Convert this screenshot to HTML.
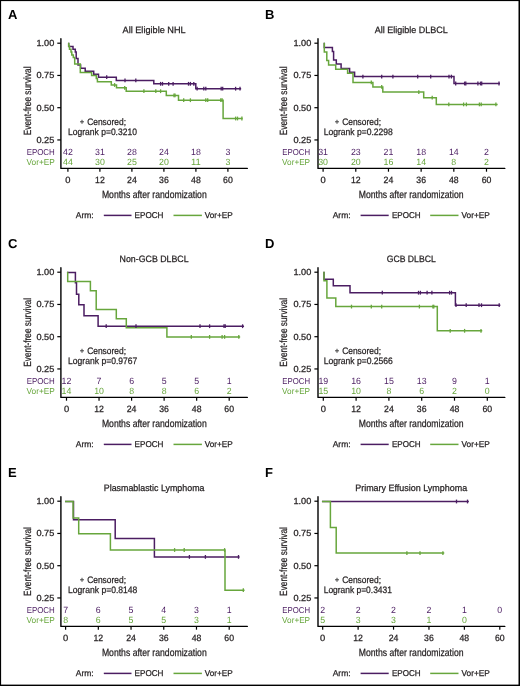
<!DOCTYPE html>
<html><head><meta charset="utf-8"><title>Event-free survival</title>
<style>html,body{margin:0;padding:0;background:#fff;width:520px;height:686px;overflow:hidden}</style>
</head><body>
<svg width="520" height="686" viewBox="0 0 520 686" style="display:block;will-change:transform">
<rect x="0" y="0" width="520" height="686" fill="#fff"/>
<g font-family='"Liberation Sans", sans-serif' text-rendering="geometricPrecision">
<text x="8.00" y="18.90" font-size="13.0" fill="#000" font-weight="bold">A</text>
<text x="122.55" y="33.30" font-size="9.2" fill="#231f20" textLength="63.10" lengthAdjust="spacingAndGlyphs" stroke="#231f20" stroke-width="0.25">All Eligible NHL</text>
<path d="M60.90,38.80 V168.40 H247.30" fill="none" stroke="#000" stroke-width="1.4" stroke-linecap="round" stroke-linejoin="round"/>
<line x1="57.30" y1="43.20" x2="60.90" y2="43.20" stroke="#000" stroke-width="1.2"/>
<text x="36.40" y="46.05" font-size="8.8" fill="#231f20" textLength="17.90" lengthAdjust="spacingAndGlyphs" stroke="#231f20" stroke-width="0.25">1.00</text>
<line x1="57.30" y1="75.45" x2="60.90" y2="75.45" stroke="#000" stroke-width="1.2"/>
<text x="36.40" y="78.30" font-size="8.8" fill="#231f20" textLength="17.90" lengthAdjust="spacingAndGlyphs" stroke="#231f20" stroke-width="0.25">0.75</text>
<line x1="57.30" y1="107.70" x2="60.90" y2="107.70" stroke="#000" stroke-width="1.2"/>
<text x="36.40" y="110.55" font-size="8.8" fill="#231f20" textLength="17.90" lengthAdjust="spacingAndGlyphs" stroke="#231f20" stroke-width="0.25">0.50</text>
<line x1="57.30" y1="139.95" x2="60.90" y2="139.95" stroke="#000" stroke-width="1.2"/>
<text x="36.40" y="142.80" font-size="8.8" fill="#231f20" textLength="17.90" lengthAdjust="spacingAndGlyphs" stroke="#231f20" stroke-width="0.25">0.25</text>
<line x1="67.90" y1="168.40" x2="67.90" y2="171.70" stroke="#000" stroke-width="1.2"/>
<text x="65.30" y="183.30" font-size="9.1" fill="#231f20" textLength="5.20" lengthAdjust="spacingAndGlyphs" stroke="#231f20" stroke-width="0.25">0</text>
<line x1="99.90" y1="168.40" x2="99.90" y2="171.70" stroke="#000" stroke-width="1.2"/>
<text x="95.05" y="183.30" font-size="9.1" fill="#231f20" textLength="9.70" lengthAdjust="spacingAndGlyphs" stroke="#231f20" stroke-width="0.25">12</text>
<line x1="131.90" y1="168.40" x2="131.90" y2="171.70" stroke="#000" stroke-width="1.2"/>
<text x="127.05" y="183.30" font-size="9.1" fill="#231f20" textLength="9.70" lengthAdjust="spacingAndGlyphs" stroke="#231f20" stroke-width="0.25">24</text>
<line x1="163.90" y1="168.40" x2="163.90" y2="171.70" stroke="#000" stroke-width="1.2"/>
<text x="159.05" y="183.30" font-size="9.1" fill="#231f20" textLength="9.70" lengthAdjust="spacingAndGlyphs" stroke="#231f20" stroke-width="0.25">36</text>
<line x1="195.90" y1="168.40" x2="195.90" y2="171.70" stroke="#000" stroke-width="1.2"/>
<text x="191.05" y="183.30" font-size="9.1" fill="#231f20" textLength="9.70" lengthAdjust="spacingAndGlyphs" stroke="#231f20" stroke-width="0.25">48</text>
<line x1="227.90" y1="168.40" x2="227.90" y2="171.70" stroke="#000" stroke-width="1.2"/>
<text x="223.05" y="183.30" font-size="9.1" fill="#231f20" textLength="9.70" lengthAdjust="spacingAndGlyphs" stroke="#231f20" stroke-width="0.25">60</text>
<text x="101.90" y="197.60" font-size="10.4" fill="#231f20" textLength="104.80" lengthAdjust="spacingAndGlyphs" stroke="#231f20" stroke-width="0.25">Months after randomization</text>
<text x="0" y="0" font-size="10.4" fill="#231f20" stroke="#231f20" stroke-width="0.25" textLength="68.8" lengthAdjust="spacingAndGlyphs" transform="translate(30.50,135.30) rotate(-90)">Event-free survival</text>
<line x1="80.00" y1="121.80" x2="84.00" y2="121.80" stroke="#444" stroke-width="1.0"/>
<line x1="82.00" y1="119.80" x2="82.00" y2="123.80" stroke="#444" stroke-width="1.0"/>
<text x="87.20" y="125.40" font-size="9.4" fill="#231f20" textLength="38.80" lengthAdjust="spacingAndGlyphs" stroke="#231f20" stroke-width="0.25">Censored;</text>
<text x="68.10" y="135.00" font-size="9.4" fill="#231f20" textLength="68.80" lengthAdjust="spacingAndGlyphs" stroke="#231f20" stroke-width="0.25">Logrank p=0.3210</text>
<text x="26.70" y="154.65" font-size="8.6" fill="#4b1d62" textLength="28.10" lengthAdjust="spacingAndGlyphs">EPOCH</text>
<text x="26.50" y="164.60" font-size="8.6" fill="#67a63c" textLength="28.30" lengthAdjust="spacingAndGlyphs">Vor+EP</text>
<text x="63.00" y="154.65" font-size="9.0" fill="#4b1d62" textLength="9.80" lengthAdjust="spacingAndGlyphs">42</text>
<text x="63.00" y="164.60" font-size="9.0" fill="#67a63c" textLength="9.80" lengthAdjust="spacingAndGlyphs">44</text>
<text x="95.00" y="154.65" font-size="9.0" fill="#4b1d62" textLength="9.80" lengthAdjust="spacingAndGlyphs">31</text>
<text x="95.00" y="164.60" font-size="9.0" fill="#67a63c" textLength="9.80" lengthAdjust="spacingAndGlyphs">30</text>
<text x="127.00" y="154.65" font-size="9.0" fill="#4b1d62" textLength="9.80" lengthAdjust="spacingAndGlyphs">28</text>
<text x="127.00" y="164.60" font-size="9.0" fill="#67a63c" textLength="9.80" lengthAdjust="spacingAndGlyphs">25</text>
<text x="159.00" y="154.65" font-size="9.0" fill="#4b1d62" textLength="9.80" lengthAdjust="spacingAndGlyphs">24</text>
<text x="159.00" y="164.60" font-size="9.0" fill="#67a63c" textLength="9.80" lengthAdjust="spacingAndGlyphs">20</text>
<text x="191.00" y="154.65" font-size="9.0" fill="#4b1d62" textLength="9.80" lengthAdjust="spacingAndGlyphs">18</text>
<text x="191.00" y="164.60" font-size="9.0" fill="#67a63c" textLength="9.80" lengthAdjust="spacingAndGlyphs">11</text>
<text x="225.45" y="154.65" font-size="9.0" fill="#4b1d62" textLength="4.90" lengthAdjust="spacingAndGlyphs">3</text>
<text x="225.45" y="164.60" font-size="9.0" fill="#67a63c" textLength="4.90" lengthAdjust="spacingAndGlyphs">3</text>
<text x="75.80" y="218.40" font-size="8.5" fill="#231f20" textLength="17.90" lengthAdjust="spacingAndGlyphs" stroke="#231f20" stroke-width="0.25">Arm:</text>
<line x1="103.80" y1="215.40" x2="131.50" y2="215.40" stroke="#4b1d62" stroke-width="1.5"/>
<text x="134.60" y="218.40" font-size="8.5" fill="#231f20" textLength="28.90" lengthAdjust="spacingAndGlyphs" stroke="#231f20" stroke-width="0.25">EPOCH</text>
<line x1="173.50" y1="215.40" x2="201.90" y2="215.40" stroke="#67a63c" stroke-width="1.5"/>
<text x="204.80" y="218.40" font-size="8.5" fill="#231f20" textLength="27.90" lengthAdjust="spacingAndGlyphs" stroke="#231f20" stroke-width="0.25">Vor+EP</text>
<path d="M68.7,43.4 V46.4 H73 V49.3 H75.3 V52 H76.2 V58.5 H78 V65 H80.6 V68.2 H85.2 V71.2 H93.7 V74.3 H98.5 V77.2 H116.3 V80.4 H153.8 V83.8 H195.8 V88.7 H240.4" fill="none" stroke="#4b1d62" stroke-width="1.5" stroke-linejoin="miter" stroke-linecap="square"/>
<path d="M68.7,43.4 V46.3 H69.5 V49.3 H71 V52 H71.8 V55 H73.3 V57.5 H74.7 V64 H80.3 V72.4 H91.6 V75.5 H96.3 V78.5 H97.4 V81.8 H111.3 V85 H116.5 V87.8 H126.2 V91.2 H166.3 V95.4 H178.5 V100.2 H223.1 V118.5 H241.9" fill="none" stroke="#67a63c" stroke-width="1.5" stroke-linejoin="miter" stroke-linecap="square"/>
<line x1="106.70" y1="75.30" x2="106.70" y2="79.10" stroke="#4b1d62" stroke-width="1.3"/>
<line x1="125.00" y1="78.50" x2="125.00" y2="82.30" stroke="#4b1d62" stroke-width="1.3"/>
<line x1="135.80" y1="78.50" x2="135.80" y2="82.30" stroke="#4b1d62" stroke-width="1.3"/>
<line x1="160.60" y1="81.90" x2="160.60" y2="85.70" stroke="#4b1d62" stroke-width="1.3"/>
<line x1="162.50" y1="81.90" x2="162.50" y2="85.70" stroke="#4b1d62" stroke-width="1.3"/>
<line x1="168.70" y1="81.90" x2="168.70" y2="85.70" stroke="#4b1d62" stroke-width="1.3"/>
<line x1="173.10" y1="81.90" x2="173.10" y2="85.70" stroke="#4b1d62" stroke-width="1.3"/>
<line x1="188.50" y1="81.90" x2="188.50" y2="85.70" stroke="#4b1d62" stroke-width="1.3"/>
<line x1="190.40" y1="81.90" x2="190.40" y2="85.70" stroke="#4b1d62" stroke-width="1.3"/>
<line x1="193.80" y1="81.90" x2="193.80" y2="85.70" stroke="#4b1d62" stroke-width="1.3"/>
<line x1="197.10" y1="86.80" x2="197.10" y2="90.60" stroke="#4b1d62" stroke-width="1.3"/>
<line x1="203.80" y1="86.80" x2="203.80" y2="90.60" stroke="#4b1d62" stroke-width="1.3"/>
<line x1="205.80" y1="86.80" x2="205.80" y2="90.60" stroke="#4b1d62" stroke-width="1.3"/>
<line x1="221.20" y1="86.80" x2="221.20" y2="90.60" stroke="#4b1d62" stroke-width="1.3"/>
<line x1="222.70" y1="86.80" x2="222.70" y2="90.60" stroke="#4b1d62" stroke-width="1.3"/>
<line x1="235.60" y1="86.80" x2="235.60" y2="90.60" stroke="#4b1d62" stroke-width="1.3"/>
<line x1="240.00" y1="86.80" x2="240.00" y2="90.60" stroke="#4b1d62" stroke-width="1.3"/>
<line x1="114.60" y1="83.10" x2="114.60" y2="86.90" stroke="#67a63c" stroke-width="1.3"/>
<line x1="124.70" y1="85.90" x2="124.70" y2="89.70" stroke="#67a63c" stroke-width="1.3"/>
<line x1="143.90" y1="89.30" x2="143.90" y2="93.10" stroke="#67a63c" stroke-width="1.3"/>
<line x1="155.80" y1="89.30" x2="155.80" y2="93.10" stroke="#67a63c" stroke-width="1.3"/>
<line x1="160.60" y1="89.30" x2="160.60" y2="93.10" stroke="#67a63c" stroke-width="1.3"/>
<line x1="174.00" y1="93.50" x2="174.00" y2="97.30" stroke="#67a63c" stroke-width="1.3"/>
<line x1="175.00" y1="93.50" x2="175.00" y2="97.30" stroke="#67a63c" stroke-width="1.3"/>
<line x1="183.70" y1="98.30" x2="183.70" y2="102.10" stroke="#67a63c" stroke-width="1.3"/>
<line x1="190.40" y1="98.30" x2="190.40" y2="102.10" stroke="#67a63c" stroke-width="1.3"/>
<line x1="205.80" y1="98.30" x2="205.80" y2="102.10" stroke="#67a63c" stroke-width="1.3"/>
<line x1="207.70" y1="98.30" x2="207.70" y2="102.10" stroke="#67a63c" stroke-width="1.3"/>
<line x1="220.80" y1="98.30" x2="220.80" y2="102.10" stroke="#67a63c" stroke-width="1.3"/>
<line x1="222.10" y1="98.30" x2="222.10" y2="102.10" stroke="#67a63c" stroke-width="1.3"/>
<line x1="235.60" y1="116.60" x2="235.60" y2="120.40" stroke="#67a63c" stroke-width="1.3"/>
<line x1="237.50" y1="116.60" x2="237.50" y2="120.40" stroke="#67a63c" stroke-width="1.3"/>
<line x1="241.90" y1="116.60" x2="241.90" y2="120.40" stroke="#67a63c" stroke-width="1.3"/>
<text x="265.00" y="18.90" font-size="13.0" fill="#000" font-weight="bold">B</text>
<text x="374.65" y="33.30" font-size="9.2" fill="#231f20" textLength="73.10" lengthAdjust="spacingAndGlyphs" stroke="#231f20" stroke-width="0.25">All Eligible DLBCL</text>
<path d="M318.00,38.80 V168.40 H504.80" fill="none" stroke="#000" stroke-width="1.4" stroke-linecap="round" stroke-linejoin="round"/>
<line x1="314.40" y1="43.20" x2="318.00" y2="43.20" stroke="#000" stroke-width="1.2"/>
<text x="293.40" y="46.05" font-size="8.8" fill="#231f20" textLength="17.90" lengthAdjust="spacingAndGlyphs" stroke="#231f20" stroke-width="0.25">1.00</text>
<line x1="314.40" y1="75.45" x2="318.00" y2="75.45" stroke="#000" stroke-width="1.2"/>
<text x="293.40" y="78.30" font-size="8.8" fill="#231f20" textLength="17.90" lengthAdjust="spacingAndGlyphs" stroke="#231f20" stroke-width="0.25">0.75</text>
<line x1="314.40" y1="107.70" x2="318.00" y2="107.70" stroke="#000" stroke-width="1.2"/>
<text x="293.40" y="110.55" font-size="8.8" fill="#231f20" textLength="17.90" lengthAdjust="spacingAndGlyphs" stroke="#231f20" stroke-width="0.25">0.50</text>
<line x1="314.40" y1="139.95" x2="318.00" y2="139.95" stroke="#000" stroke-width="1.2"/>
<text x="293.40" y="142.80" font-size="8.8" fill="#231f20" textLength="17.90" lengthAdjust="spacingAndGlyphs" stroke="#231f20" stroke-width="0.25">0.25</text>
<line x1="323.10" y1="168.40" x2="323.10" y2="171.70" stroke="#000" stroke-width="1.2"/>
<text x="320.50" y="183.30" font-size="9.1" fill="#231f20" textLength="5.20" lengthAdjust="spacingAndGlyphs" stroke="#231f20" stroke-width="0.25">0</text>
<line x1="355.78" y1="168.40" x2="355.78" y2="171.70" stroke="#000" stroke-width="1.2"/>
<text x="350.93" y="183.30" font-size="9.1" fill="#231f20" textLength="9.70" lengthAdjust="spacingAndGlyphs" stroke="#231f20" stroke-width="0.25">12</text>
<line x1="388.46" y1="168.40" x2="388.46" y2="171.70" stroke="#000" stroke-width="1.2"/>
<text x="383.61" y="183.30" font-size="9.1" fill="#231f20" textLength="9.70" lengthAdjust="spacingAndGlyphs" stroke="#231f20" stroke-width="0.25">24</text>
<line x1="421.14" y1="168.40" x2="421.14" y2="171.70" stroke="#000" stroke-width="1.2"/>
<text x="416.29" y="183.30" font-size="9.1" fill="#231f20" textLength="9.70" lengthAdjust="spacingAndGlyphs" stroke="#231f20" stroke-width="0.25">36</text>
<line x1="453.82" y1="168.40" x2="453.82" y2="171.70" stroke="#000" stroke-width="1.2"/>
<text x="448.97" y="183.30" font-size="9.1" fill="#231f20" textLength="9.70" lengthAdjust="spacingAndGlyphs" stroke="#231f20" stroke-width="0.25">48</text>
<line x1="486.50" y1="168.40" x2="486.50" y2="171.70" stroke="#000" stroke-width="1.2"/>
<text x="481.65" y="183.30" font-size="9.1" fill="#231f20" textLength="9.70" lengthAdjust="spacingAndGlyphs" stroke="#231f20" stroke-width="0.25">60</text>
<text x="358.80" y="197.60" font-size="10.4" fill="#231f20" textLength="104.70" lengthAdjust="spacingAndGlyphs" stroke="#231f20" stroke-width="0.25">Months after randomization</text>
<text x="0" y="0" font-size="10.4" fill="#231f20" stroke="#231f20" stroke-width="0.25" textLength="68.8" lengthAdjust="spacingAndGlyphs" transform="translate(287.30,135.30) rotate(-90)">Event-free survival</text>
<line x1="335.00" y1="121.80" x2="339.00" y2="121.80" stroke="#444" stroke-width="1.0"/>
<line x1="337.00" y1="119.80" x2="337.00" y2="123.80" stroke="#444" stroke-width="1.0"/>
<text x="342.20" y="125.40" font-size="9.4" fill="#231f20" textLength="38.80" lengthAdjust="spacingAndGlyphs" stroke="#231f20" stroke-width="0.25">Censored;</text>
<text x="323.70" y="135.00" font-size="9.4" fill="#231f20" textLength="69.20" lengthAdjust="spacingAndGlyphs" stroke="#231f20" stroke-width="0.25">Logrank p=0.2298</text>
<text x="282.30" y="154.65" font-size="8.6" fill="#4b1d62" textLength="27.80" lengthAdjust="spacingAndGlyphs">EPOCH</text>
<text x="282.10" y="164.60" font-size="8.6" fill="#67a63c" textLength="28.00" lengthAdjust="spacingAndGlyphs">Vor+EP</text>
<text x="318.20" y="154.65" font-size="9.0" fill="#4b1d62" textLength="9.80" lengthAdjust="spacingAndGlyphs">31</text>
<text x="318.20" y="164.60" font-size="9.0" fill="#67a63c" textLength="9.80" lengthAdjust="spacingAndGlyphs">30</text>
<text x="350.88" y="154.65" font-size="9.0" fill="#4b1d62" textLength="9.80" lengthAdjust="spacingAndGlyphs">23</text>
<text x="350.88" y="164.60" font-size="9.0" fill="#67a63c" textLength="9.80" lengthAdjust="spacingAndGlyphs">20</text>
<text x="383.56" y="154.65" font-size="9.0" fill="#4b1d62" textLength="9.80" lengthAdjust="spacingAndGlyphs">21</text>
<text x="383.56" y="164.60" font-size="9.0" fill="#67a63c" textLength="9.80" lengthAdjust="spacingAndGlyphs">16</text>
<text x="416.24" y="154.65" font-size="9.0" fill="#4b1d62" textLength="9.80" lengthAdjust="spacingAndGlyphs">18</text>
<text x="416.24" y="164.60" font-size="9.0" fill="#67a63c" textLength="9.80" lengthAdjust="spacingAndGlyphs">14</text>
<text x="448.92" y="154.65" font-size="9.0" fill="#4b1d62" textLength="9.80" lengthAdjust="spacingAndGlyphs">14</text>
<text x="451.37" y="164.60" font-size="9.0" fill="#67a63c" textLength="4.90" lengthAdjust="spacingAndGlyphs">8</text>
<text x="484.05" y="154.65" font-size="9.0" fill="#4b1d62" textLength="4.90" lengthAdjust="spacingAndGlyphs">2</text>
<text x="484.05" y="164.60" font-size="9.0" fill="#67a63c" textLength="4.90" lengthAdjust="spacingAndGlyphs">2</text>
<text x="332.70" y="218.40" font-size="8.5" fill="#231f20" textLength="17.90" lengthAdjust="spacingAndGlyphs" stroke="#231f20" stroke-width="0.25">Arm:</text>
<line x1="360.60" y1="215.40" x2="388.70" y2="215.40" stroke="#4b1d62" stroke-width="1.5"/>
<text x="391.90" y="218.40" font-size="8.5" fill="#231f20" textLength="28.70" lengthAdjust="spacingAndGlyphs" stroke="#231f20" stroke-width="0.25">EPOCH</text>
<line x1="430.20" y1="215.40" x2="458.50" y2="215.40" stroke="#67a63c" stroke-width="1.5"/>
<text x="461.50" y="218.40" font-size="8.5" fill="#231f20" textLength="28.30" lengthAdjust="spacingAndGlyphs" stroke="#231f20" stroke-width="0.25">Vor+EP</text>
<path d="M324.3,43.4 V47.4 H332.4 V51.5 H333.6 V60.1 H336.3 V64 H341.1 V68.4 H349.6 V72.3 H354.6 V76.6 H454 V83.5 H499.2" fill="none" stroke="#4b1d62" stroke-width="1.5" stroke-linejoin="miter" stroke-linecap="square"/>
<path d="M324.3,43.4 V51.9 H326.8 V60.6 H328.6 V65 H335.7 V69.3 H347.6 V73.2 H353 V82.4 H372.9 V86.9 H382.8 V92.1 H423.7 V97.7 H436.3 V104.4 H496.9" fill="none" stroke="#67a63c" stroke-width="1.5" stroke-linejoin="miter" stroke-linecap="square"/>
<line x1="362.90" y1="74.70" x2="362.90" y2="78.50" stroke="#4b1d62" stroke-width="1.3"/>
<line x1="381.70" y1="74.70" x2="381.70" y2="78.50" stroke="#4b1d62" stroke-width="1.3"/>
<line x1="392.90" y1="74.70" x2="392.90" y2="78.50" stroke="#4b1d62" stroke-width="1.3"/>
<line x1="417.70" y1="74.70" x2="417.70" y2="78.50" stroke="#4b1d62" stroke-width="1.3"/>
<line x1="430.70" y1="74.70" x2="430.70" y2="78.50" stroke="#4b1d62" stroke-width="1.3"/>
<line x1="449.00" y1="74.70" x2="449.00" y2="78.50" stroke="#4b1d62" stroke-width="1.3"/>
<line x1="451.40" y1="74.70" x2="451.40" y2="78.50" stroke="#4b1d62" stroke-width="1.3"/>
<line x1="455.70" y1="81.60" x2="455.70" y2="85.40" stroke="#4b1d62" stroke-width="1.3"/>
<line x1="464.60" y1="81.60" x2="464.60" y2="85.40" stroke="#4b1d62" stroke-width="1.3"/>
<line x1="465.80" y1="81.60" x2="465.80" y2="85.40" stroke="#4b1d62" stroke-width="1.3"/>
<line x1="477.90" y1="81.60" x2="477.90" y2="85.40" stroke="#4b1d62" stroke-width="1.3"/>
<line x1="480.50" y1="81.60" x2="480.50" y2="85.40" stroke="#4b1d62" stroke-width="1.3"/>
<line x1="481.70" y1="81.60" x2="481.70" y2="85.40" stroke="#4b1d62" stroke-width="1.3"/>
<line x1="499.00" y1="81.60" x2="499.00" y2="85.40" stroke="#4b1d62" stroke-width="1.3"/>
<line x1="371.30" y1="80.50" x2="371.30" y2="84.30" stroke="#67a63c" stroke-width="1.3"/>
<line x1="381.70" y1="85.00" x2="381.70" y2="88.80" stroke="#67a63c" stroke-width="1.3"/>
<line x1="418.80" y1="90.20" x2="418.80" y2="94.00" stroke="#67a63c" stroke-width="1.3"/>
<line x1="432.20" y1="95.80" x2="432.20" y2="99.60" stroke="#67a63c" stroke-width="1.3"/>
<line x1="448.80" y1="102.50" x2="448.80" y2="106.30" stroke="#67a63c" stroke-width="1.3"/>
<line x1="463.60" y1="102.50" x2="463.60" y2="106.30" stroke="#67a63c" stroke-width="1.3"/>
<line x1="466.40" y1="102.50" x2="466.40" y2="106.30" stroke="#67a63c" stroke-width="1.3"/>
<line x1="479.40" y1="102.50" x2="479.40" y2="106.30" stroke="#67a63c" stroke-width="1.3"/>
<line x1="481.20" y1="102.50" x2="481.20" y2="106.30" stroke="#67a63c" stroke-width="1.3"/>
<line x1="495.90" y1="102.50" x2="495.90" y2="106.30" stroke="#67a63c" stroke-width="1.3"/>
<text x="8.00" y="247.90" font-size="13.0" fill="#000" font-weight="bold">C</text>
<text x="119.60" y="262.30" font-size="9.2" fill="#231f20" textLength="69.00" lengthAdjust="spacingAndGlyphs" stroke="#231f20" stroke-width="0.25">Non-GCB DLBCL</text>
<path d="M60.90,267.80 V397.40 H247.30" fill="none" stroke="#000" stroke-width="1.4" stroke-linecap="round" stroke-linejoin="round"/>
<line x1="57.30" y1="272.20" x2="60.90" y2="272.20" stroke="#000" stroke-width="1.2"/>
<text x="36.40" y="275.05" font-size="8.8" fill="#231f20" textLength="17.90" lengthAdjust="spacingAndGlyphs" stroke="#231f20" stroke-width="0.25">1.00</text>
<line x1="57.30" y1="304.45" x2="60.90" y2="304.45" stroke="#000" stroke-width="1.2"/>
<text x="36.40" y="307.30" font-size="8.8" fill="#231f20" textLength="17.90" lengthAdjust="spacingAndGlyphs" stroke="#231f20" stroke-width="0.25">0.75</text>
<line x1="57.30" y1="336.70" x2="60.90" y2="336.70" stroke="#000" stroke-width="1.2"/>
<text x="36.40" y="339.55" font-size="8.8" fill="#231f20" textLength="17.90" lengthAdjust="spacingAndGlyphs" stroke="#231f20" stroke-width="0.25">0.50</text>
<line x1="57.30" y1="368.95" x2="60.90" y2="368.95" stroke="#000" stroke-width="1.2"/>
<text x="36.40" y="371.80" font-size="8.8" fill="#231f20" textLength="17.90" lengthAdjust="spacingAndGlyphs" stroke="#231f20" stroke-width="0.25">0.25</text>
<line x1="66.50" y1="397.40" x2="66.50" y2="400.70" stroke="#000" stroke-width="1.2"/>
<text x="63.90" y="412.30" font-size="9.1" fill="#231f20" textLength="5.20" lengthAdjust="spacingAndGlyphs" stroke="#231f20" stroke-width="0.25">0</text>
<line x1="99.04" y1="397.40" x2="99.04" y2="400.70" stroke="#000" stroke-width="1.2"/>
<text x="94.19" y="412.30" font-size="9.1" fill="#231f20" textLength="9.70" lengthAdjust="spacingAndGlyphs" stroke="#231f20" stroke-width="0.25">12</text>
<line x1="131.58" y1="397.40" x2="131.58" y2="400.70" stroke="#000" stroke-width="1.2"/>
<text x="126.73" y="412.30" font-size="9.1" fill="#231f20" textLength="9.70" lengthAdjust="spacingAndGlyphs" stroke="#231f20" stroke-width="0.25">24</text>
<line x1="164.12" y1="397.40" x2="164.12" y2="400.70" stroke="#000" stroke-width="1.2"/>
<text x="159.27" y="412.30" font-size="9.1" fill="#231f20" textLength="9.70" lengthAdjust="spacingAndGlyphs" stroke="#231f20" stroke-width="0.25">36</text>
<line x1="196.66" y1="397.40" x2="196.66" y2="400.70" stroke="#000" stroke-width="1.2"/>
<text x="191.81" y="412.30" font-size="9.1" fill="#231f20" textLength="9.70" lengthAdjust="spacingAndGlyphs" stroke="#231f20" stroke-width="0.25">48</text>
<line x1="229.20" y1="397.40" x2="229.20" y2="400.70" stroke="#000" stroke-width="1.2"/>
<text x="224.35" y="412.30" font-size="9.1" fill="#231f20" textLength="9.70" lengthAdjust="spacingAndGlyphs" stroke="#231f20" stroke-width="0.25">60</text>
<text x="101.90" y="426.60" font-size="10.4" fill="#231f20" textLength="104.80" lengthAdjust="spacingAndGlyphs" stroke="#231f20" stroke-width="0.25">Months after randomization</text>
<text x="0" y="0" font-size="10.4" fill="#231f20" stroke="#231f20" stroke-width="0.25" textLength="68.8" lengthAdjust="spacingAndGlyphs" transform="translate(30.50,366.80) rotate(-90)">Event-free survival</text>
<line x1="80.00" y1="350.80" x2="84.00" y2="350.80" stroke="#444" stroke-width="1.0"/>
<line x1="82.00" y1="348.80" x2="82.00" y2="352.80" stroke="#444" stroke-width="1.0"/>
<text x="87.20" y="354.40" font-size="9.4" fill="#231f20" textLength="38.80" lengthAdjust="spacingAndGlyphs" stroke="#231f20" stroke-width="0.25">Censored;</text>
<text x="68.10" y="364.00" font-size="9.4" fill="#231f20" textLength="69.20" lengthAdjust="spacingAndGlyphs" stroke="#231f20" stroke-width="0.25">Logrank p=0.9767</text>
<text x="26.70" y="383.65" font-size="8.6" fill="#4b1d62" textLength="28.10" lengthAdjust="spacingAndGlyphs">EPOCH</text>
<text x="26.50" y="393.60" font-size="8.6" fill="#67a63c" textLength="28.30" lengthAdjust="spacingAndGlyphs">Vor+EP</text>
<text x="61.60" y="383.65" font-size="9.0" fill="#4b1d62" textLength="9.80" lengthAdjust="spacingAndGlyphs">12</text>
<text x="61.60" y="393.60" font-size="9.0" fill="#67a63c" textLength="9.80" lengthAdjust="spacingAndGlyphs">14</text>
<text x="96.59" y="383.65" font-size="9.0" fill="#4b1d62" textLength="4.90" lengthAdjust="spacingAndGlyphs">7</text>
<text x="94.14" y="393.60" font-size="9.0" fill="#67a63c" textLength="9.80" lengthAdjust="spacingAndGlyphs">10</text>
<text x="129.13" y="383.65" font-size="9.0" fill="#4b1d62" textLength="4.90" lengthAdjust="spacingAndGlyphs">6</text>
<text x="129.13" y="393.60" font-size="9.0" fill="#67a63c" textLength="4.90" lengthAdjust="spacingAndGlyphs">8</text>
<text x="161.67" y="383.65" font-size="9.0" fill="#4b1d62" textLength="4.90" lengthAdjust="spacingAndGlyphs">5</text>
<text x="161.67" y="393.60" font-size="9.0" fill="#67a63c" textLength="4.90" lengthAdjust="spacingAndGlyphs">8</text>
<text x="194.21" y="383.65" font-size="9.0" fill="#4b1d62" textLength="4.90" lengthAdjust="spacingAndGlyphs">5</text>
<text x="194.21" y="393.60" font-size="9.0" fill="#67a63c" textLength="4.90" lengthAdjust="spacingAndGlyphs">6</text>
<text x="226.75" y="383.65" font-size="9.0" fill="#4b1d62" textLength="4.90" lengthAdjust="spacingAndGlyphs">1</text>
<text x="226.75" y="393.60" font-size="9.0" fill="#67a63c" textLength="4.90" lengthAdjust="spacingAndGlyphs">2</text>
<text x="75.80" y="447.40" font-size="8.5" fill="#231f20" textLength="17.90" lengthAdjust="spacingAndGlyphs" stroke="#231f20" stroke-width="0.25">Arm:</text>
<line x1="103.80" y1="444.40" x2="131.50" y2="444.40" stroke="#4b1d62" stroke-width="1.5"/>
<text x="134.60" y="447.40" font-size="8.5" fill="#231f20" textLength="28.90" lengthAdjust="spacingAndGlyphs" stroke="#231f20" stroke-width="0.25">EPOCH</text>
<line x1="173.50" y1="444.40" x2="201.90" y2="444.40" stroke="#67a63c" stroke-width="1.5"/>
<text x="204.80" y="447.40" font-size="8.5" fill="#231f20" textLength="27.90" lengthAdjust="spacingAndGlyphs" stroke="#231f20" stroke-width="0.25">Vor+EP</text>
<path d="M67.7,272.5 H75.4 V282.7 H76.5 V294.2 H78.8 V304.8 H84 V315.8 H98.1 V326.2 H243.3" fill="none" stroke="#4b1d62" stroke-width="1.5" stroke-linejoin="miter" stroke-linecap="square"/>
<path d="M67.7,272.5 V281.6 H90.4 V290.8 H96.2 V309.4 H116.3 V318.7 H126.3 V327.7 H166.9 V336.9 H239.4" fill="none" stroke="#67a63c" stroke-width="1.5" stroke-linejoin="miter" stroke-linecap="square"/>
<line x1="106.20" y1="324.30" x2="106.20" y2="328.10" stroke="#4b1d62" stroke-width="1.3"/>
<line x1="136.00" y1="324.30" x2="136.00" y2="328.10" stroke="#4b1d62" stroke-width="1.3"/>
<line x1="200.00" y1="324.30" x2="200.00" y2="328.10" stroke="#4b1d62" stroke-width="1.3"/>
<line x1="209.60" y1="324.30" x2="209.60" y2="328.10" stroke="#4b1d62" stroke-width="1.3"/>
<line x1="224.00" y1="324.30" x2="224.00" y2="328.10" stroke="#4b1d62" stroke-width="1.3"/>
<line x1="225.20" y1="324.30" x2="225.20" y2="328.10" stroke="#4b1d62" stroke-width="1.3"/>
<line x1="242.60" y1="324.30" x2="242.60" y2="328.10" stroke="#4b1d62" stroke-width="1.3"/>
<line x1="191.30" y1="335.00" x2="191.30" y2="338.80" stroke="#67a63c" stroke-width="1.3"/>
<line x1="209.60" y1="335.00" x2="209.60" y2="338.80" stroke="#67a63c" stroke-width="1.3"/>
<line x1="222.10" y1="335.00" x2="222.10" y2="338.80" stroke="#67a63c" stroke-width="1.3"/>
<line x1="224.60" y1="335.00" x2="224.60" y2="338.80" stroke="#67a63c" stroke-width="1.3"/>
<line x1="238.80" y1="335.00" x2="238.80" y2="338.80" stroke="#67a63c" stroke-width="1.3"/>
<text x="265.00" y="247.90" font-size="13.0" fill="#000" font-weight="bold">D</text>
<text x="386.65" y="262.30" font-size="9.2" fill="#231f20" textLength="49.10" lengthAdjust="spacingAndGlyphs" stroke="#231f20" stroke-width="0.25">GCB DLBCL</text>
<path d="M318.00,267.80 V397.40 H504.80" fill="none" stroke="#000" stroke-width="1.4" stroke-linecap="round" stroke-linejoin="round"/>
<line x1="314.40" y1="272.20" x2="318.00" y2="272.20" stroke="#000" stroke-width="1.2"/>
<text x="293.40" y="275.05" font-size="8.8" fill="#231f20" textLength="17.90" lengthAdjust="spacingAndGlyphs" stroke="#231f20" stroke-width="0.25">1.00</text>
<line x1="314.40" y1="304.45" x2="318.00" y2="304.45" stroke="#000" stroke-width="1.2"/>
<text x="293.40" y="307.30" font-size="8.8" fill="#231f20" textLength="17.90" lengthAdjust="spacingAndGlyphs" stroke="#231f20" stroke-width="0.25">0.75</text>
<line x1="314.40" y1="336.70" x2="318.00" y2="336.70" stroke="#000" stroke-width="1.2"/>
<text x="293.40" y="339.55" font-size="8.8" fill="#231f20" textLength="17.90" lengthAdjust="spacingAndGlyphs" stroke="#231f20" stroke-width="0.25">0.50</text>
<line x1="314.40" y1="368.95" x2="318.00" y2="368.95" stroke="#000" stroke-width="1.2"/>
<text x="293.40" y="371.80" font-size="8.8" fill="#231f20" textLength="17.90" lengthAdjust="spacingAndGlyphs" stroke="#231f20" stroke-width="0.25">0.25</text>
<line x1="323.30" y1="397.40" x2="323.30" y2="400.70" stroke="#000" stroke-width="1.2"/>
<text x="320.70" y="412.30" font-size="9.1" fill="#231f20" textLength="5.20" lengthAdjust="spacingAndGlyphs" stroke="#231f20" stroke-width="0.25">0</text>
<line x1="356.10" y1="397.40" x2="356.10" y2="400.70" stroke="#000" stroke-width="1.2"/>
<text x="351.25" y="412.30" font-size="9.1" fill="#231f20" textLength="9.70" lengthAdjust="spacingAndGlyphs" stroke="#231f20" stroke-width="0.25">12</text>
<line x1="388.90" y1="397.40" x2="388.90" y2="400.70" stroke="#000" stroke-width="1.2"/>
<text x="384.05" y="412.30" font-size="9.1" fill="#231f20" textLength="9.70" lengthAdjust="spacingAndGlyphs" stroke="#231f20" stroke-width="0.25">24</text>
<line x1="421.70" y1="397.40" x2="421.70" y2="400.70" stroke="#000" stroke-width="1.2"/>
<text x="416.85" y="412.30" font-size="9.1" fill="#231f20" textLength="9.70" lengthAdjust="spacingAndGlyphs" stroke="#231f20" stroke-width="0.25">36</text>
<line x1="454.50" y1="397.40" x2="454.50" y2="400.70" stroke="#000" stroke-width="1.2"/>
<text x="449.65" y="412.30" font-size="9.1" fill="#231f20" textLength="9.70" lengthAdjust="spacingAndGlyphs" stroke="#231f20" stroke-width="0.25">48</text>
<line x1="487.30" y1="397.40" x2="487.30" y2="400.70" stroke="#000" stroke-width="1.2"/>
<text x="482.45" y="412.30" font-size="9.1" fill="#231f20" textLength="9.70" lengthAdjust="spacingAndGlyphs" stroke="#231f20" stroke-width="0.25">60</text>
<text x="358.80" y="426.60" font-size="10.4" fill="#231f20" textLength="104.70" lengthAdjust="spacingAndGlyphs" stroke="#231f20" stroke-width="0.25">Months after randomization</text>
<text x="0" y="0" font-size="10.4" fill="#231f20" stroke="#231f20" stroke-width="0.25" textLength="68.8" lengthAdjust="spacingAndGlyphs" transform="translate(287.30,366.80) rotate(-90)">Event-free survival</text>
<line x1="335.00" y1="350.80" x2="339.00" y2="350.80" stroke="#444" stroke-width="1.0"/>
<line x1="337.00" y1="348.80" x2="337.00" y2="352.80" stroke="#444" stroke-width="1.0"/>
<text x="342.20" y="354.40" font-size="9.4" fill="#231f20" textLength="38.80" lengthAdjust="spacingAndGlyphs" stroke="#231f20" stroke-width="0.25">Censored;</text>
<text x="323.70" y="364.00" font-size="9.4" fill="#231f20" textLength="69.20" lengthAdjust="spacingAndGlyphs" stroke="#231f20" stroke-width="0.25">Logrank p=0.2566</text>
<text x="282.30" y="383.65" font-size="8.6" fill="#4b1d62" textLength="27.80" lengthAdjust="spacingAndGlyphs">EPOCH</text>
<text x="282.10" y="393.60" font-size="8.6" fill="#67a63c" textLength="28.00" lengthAdjust="spacingAndGlyphs">Vor+EP</text>
<text x="318.40" y="383.65" font-size="9.0" fill="#4b1d62" textLength="9.80" lengthAdjust="spacingAndGlyphs">19</text>
<text x="318.40" y="393.60" font-size="9.0" fill="#67a63c" textLength="9.80" lengthAdjust="spacingAndGlyphs">15</text>
<text x="351.20" y="383.65" font-size="9.0" fill="#4b1d62" textLength="9.80" lengthAdjust="spacingAndGlyphs">16</text>
<text x="351.20" y="393.60" font-size="9.0" fill="#67a63c" textLength="9.80" lengthAdjust="spacingAndGlyphs">10</text>
<text x="384.00" y="383.65" font-size="9.0" fill="#4b1d62" textLength="9.80" lengthAdjust="spacingAndGlyphs">15</text>
<text x="386.45" y="393.60" font-size="9.0" fill="#67a63c" textLength="4.90" lengthAdjust="spacingAndGlyphs">8</text>
<text x="416.80" y="383.65" font-size="9.0" fill="#4b1d62" textLength="9.80" lengthAdjust="spacingAndGlyphs">13</text>
<text x="419.25" y="393.60" font-size="9.0" fill="#67a63c" textLength="4.90" lengthAdjust="spacingAndGlyphs">6</text>
<text x="452.05" y="383.65" font-size="9.0" fill="#4b1d62" textLength="4.90" lengthAdjust="spacingAndGlyphs">9</text>
<text x="452.05" y="393.60" font-size="9.0" fill="#67a63c" textLength="4.90" lengthAdjust="spacingAndGlyphs">2</text>
<text x="484.85" y="383.65" font-size="9.0" fill="#4b1d62" textLength="4.90" lengthAdjust="spacingAndGlyphs">1</text>
<text x="484.85" y="393.60" font-size="9.0" fill="#67a63c" textLength="4.90" lengthAdjust="spacingAndGlyphs">0</text>
<text x="332.70" y="447.40" font-size="8.5" fill="#231f20" textLength="17.90" lengthAdjust="spacingAndGlyphs" stroke="#231f20" stroke-width="0.25">Arm:</text>
<line x1="360.60" y1="444.40" x2="388.70" y2="444.40" stroke="#4b1d62" stroke-width="1.5"/>
<text x="391.90" y="447.40" font-size="8.5" fill="#231f20" textLength="28.70" lengthAdjust="spacingAndGlyphs" stroke="#231f20" stroke-width="0.25">EPOCH</text>
<line x1="430.20" y1="444.40" x2="458.50" y2="444.40" stroke="#67a63c" stroke-width="1.5"/>
<text x="461.50" y="447.40" font-size="8.5" fill="#231f20" textLength="28.30" lengthAdjust="spacingAndGlyphs" stroke="#231f20" stroke-width="0.25">Vor+EP</text>
<path d="M324,272.4 V279.2 H333.3 V285.8 H350 V292.7 H455.4 V305.2 H499.6" fill="none" stroke="#4b1d62" stroke-width="1.5" stroke-linejoin="miter" stroke-linecap="square"/>
<path d="M324,272.4 V280.8 H326.9 V298.1 H335.8 V306.6 H437.3 V330.8 H481.5" fill="none" stroke="#67a63c" stroke-width="1.5" stroke-linejoin="miter" stroke-linecap="square"/>
<line x1="382.30" y1="290.80" x2="382.30" y2="294.60" stroke="#4b1d62" stroke-width="1.3"/>
<line x1="418.50" y1="290.80" x2="418.50" y2="294.60" stroke="#4b1d62" stroke-width="1.3"/>
<line x1="420.40" y1="290.80" x2="420.40" y2="294.60" stroke="#4b1d62" stroke-width="1.3"/>
<line x1="427.10" y1="290.80" x2="427.10" y2="294.60" stroke="#4b1d62" stroke-width="1.3"/>
<line x1="431.90" y1="290.80" x2="431.90" y2="294.60" stroke="#4b1d62" stroke-width="1.3"/>
<line x1="449.60" y1="290.80" x2="449.60" y2="294.60" stroke="#4b1d62" stroke-width="1.3"/>
<line x1="451.50" y1="290.80" x2="451.50" y2="294.60" stroke="#4b1d62" stroke-width="1.3"/>
<line x1="456.00" y1="303.30" x2="456.00" y2="307.10" stroke="#4b1d62" stroke-width="1.3"/>
<line x1="466.20" y1="303.30" x2="466.20" y2="307.10" stroke="#4b1d62" stroke-width="1.3"/>
<line x1="479.00" y1="303.30" x2="479.00" y2="307.10" stroke="#4b1d62" stroke-width="1.3"/>
<line x1="481.50" y1="303.30" x2="481.50" y2="307.10" stroke="#4b1d62" stroke-width="1.3"/>
<line x1="499.20" y1="303.30" x2="499.20" y2="307.10" stroke="#4b1d62" stroke-width="1.3"/>
<line x1="351.50" y1="304.70" x2="351.50" y2="308.50" stroke="#67a63c" stroke-width="1.3"/>
<line x1="371.30" y1="304.70" x2="371.30" y2="308.50" stroke="#67a63c" stroke-width="1.3"/>
<line x1="381.70" y1="304.70" x2="381.70" y2="308.50" stroke="#67a63c" stroke-width="1.3"/>
<line x1="419.40" y1="304.70" x2="419.40" y2="308.50" stroke="#67a63c" stroke-width="1.3"/>
<line x1="432.90" y1="304.70" x2="432.90" y2="308.50" stroke="#67a63c" stroke-width="1.3"/>
<line x1="433.80" y1="304.70" x2="433.80" y2="308.50" stroke="#67a63c" stroke-width="1.3"/>
<line x1="450.20" y1="328.90" x2="450.20" y2="332.70" stroke="#67a63c" stroke-width="1.3"/>
<line x1="464.60" y1="328.90" x2="464.60" y2="332.70" stroke="#67a63c" stroke-width="1.3"/>
<line x1="481.00" y1="328.90" x2="481.00" y2="332.70" stroke="#67a63c" stroke-width="1.3"/>
<text x="8.00" y="476.90" font-size="13.0" fill="#000" font-weight="bold">E</text>
<text x="103.75" y="491.30" font-size="9.2" fill="#231f20" textLength="100.70" lengthAdjust="spacingAndGlyphs" stroke="#231f20" stroke-width="0.25">Plasmablastic Lymphoma</text>
<path d="M60.90,496.80 V626.40 H247.30" fill="none" stroke="#000" stroke-width="1.4" stroke-linecap="round" stroke-linejoin="round"/>
<line x1="57.30" y1="501.20" x2="60.90" y2="501.20" stroke="#000" stroke-width="1.2"/>
<text x="36.40" y="504.05" font-size="8.8" fill="#231f20" textLength="17.90" lengthAdjust="spacingAndGlyphs" stroke="#231f20" stroke-width="0.25">1.00</text>
<line x1="57.30" y1="533.45" x2="60.90" y2="533.45" stroke="#000" stroke-width="1.2"/>
<text x="36.40" y="536.30" font-size="8.8" fill="#231f20" textLength="17.90" lengthAdjust="spacingAndGlyphs" stroke="#231f20" stroke-width="0.25">0.75</text>
<line x1="57.30" y1="565.70" x2="60.90" y2="565.70" stroke="#000" stroke-width="1.2"/>
<text x="36.40" y="568.55" font-size="8.8" fill="#231f20" textLength="17.90" lengthAdjust="spacingAndGlyphs" stroke="#231f20" stroke-width="0.25">0.50</text>
<line x1="57.30" y1="597.95" x2="60.90" y2="597.95" stroke="#000" stroke-width="1.2"/>
<text x="36.40" y="600.80" font-size="8.8" fill="#231f20" textLength="17.90" lengthAdjust="spacingAndGlyphs" stroke="#231f20" stroke-width="0.25">0.25</text>
<line x1="65.60" y1="626.40" x2="65.60" y2="629.70" stroke="#000" stroke-width="1.2"/>
<text x="63.00" y="641.30" font-size="9.1" fill="#231f20" textLength="5.20" lengthAdjust="spacingAndGlyphs" stroke="#231f20" stroke-width="0.25">0</text>
<line x1="98.32" y1="626.40" x2="98.32" y2="629.70" stroke="#000" stroke-width="1.2"/>
<text x="93.47" y="641.30" font-size="9.1" fill="#231f20" textLength="9.70" lengthAdjust="spacingAndGlyphs" stroke="#231f20" stroke-width="0.25">12</text>
<line x1="131.04" y1="626.40" x2="131.04" y2="629.70" stroke="#000" stroke-width="1.2"/>
<text x="126.19" y="641.30" font-size="9.1" fill="#231f20" textLength="9.70" lengthAdjust="spacingAndGlyphs" stroke="#231f20" stroke-width="0.25">24</text>
<line x1="163.76" y1="626.40" x2="163.76" y2="629.70" stroke="#000" stroke-width="1.2"/>
<text x="158.91" y="641.30" font-size="9.1" fill="#231f20" textLength="9.70" lengthAdjust="spacingAndGlyphs" stroke="#231f20" stroke-width="0.25">36</text>
<line x1="196.48" y1="626.40" x2="196.48" y2="629.70" stroke="#000" stroke-width="1.2"/>
<text x="191.63" y="641.30" font-size="9.1" fill="#231f20" textLength="9.70" lengthAdjust="spacingAndGlyphs" stroke="#231f20" stroke-width="0.25">48</text>
<line x1="229.20" y1="626.40" x2="229.20" y2="629.70" stroke="#000" stroke-width="1.2"/>
<text x="224.35" y="641.30" font-size="9.1" fill="#231f20" textLength="9.70" lengthAdjust="spacingAndGlyphs" stroke="#231f20" stroke-width="0.25">60</text>
<text x="101.90" y="655.60" font-size="10.4" fill="#231f20" textLength="104.80" lengthAdjust="spacingAndGlyphs" stroke="#231f20" stroke-width="0.25">Months after randomization</text>
<text x="0" y="0" font-size="10.4" fill="#231f20" stroke="#231f20" stroke-width="0.25" textLength="68.8" lengthAdjust="spacingAndGlyphs" transform="translate(30.50,595.90) rotate(-90)">Event-free survival</text>
<line x1="80.00" y1="579.80" x2="84.00" y2="579.80" stroke="#444" stroke-width="1.0"/>
<line x1="82.00" y1="577.80" x2="82.00" y2="581.80" stroke="#444" stroke-width="1.0"/>
<text x="87.20" y="583.40" font-size="9.4" fill="#231f20" textLength="38.80" lengthAdjust="spacingAndGlyphs" stroke="#231f20" stroke-width="0.25">Censored;</text>
<text x="68.10" y="593.00" font-size="9.4" fill="#231f20" textLength="69.20" lengthAdjust="spacingAndGlyphs" stroke="#231f20" stroke-width="0.25">Logrank p=0.8148</text>
<text x="26.70" y="612.65" font-size="8.6" fill="#4b1d62" textLength="28.10" lengthAdjust="spacingAndGlyphs">EPOCH</text>
<text x="26.50" y="622.60" font-size="8.6" fill="#67a63c" textLength="28.30" lengthAdjust="spacingAndGlyphs">Vor+EP</text>
<text x="63.15" y="612.65" font-size="9.0" fill="#4b1d62" textLength="4.90" lengthAdjust="spacingAndGlyphs">7</text>
<text x="63.15" y="622.60" font-size="9.0" fill="#67a63c" textLength="4.90" lengthAdjust="spacingAndGlyphs">8</text>
<text x="95.87" y="612.65" font-size="9.0" fill="#4b1d62" textLength="4.90" lengthAdjust="spacingAndGlyphs">6</text>
<text x="95.87" y="622.60" font-size="9.0" fill="#67a63c" textLength="4.90" lengthAdjust="spacingAndGlyphs">6</text>
<text x="128.59" y="612.65" font-size="9.0" fill="#4b1d62" textLength="4.90" lengthAdjust="spacingAndGlyphs">5</text>
<text x="128.59" y="622.60" font-size="9.0" fill="#67a63c" textLength="4.90" lengthAdjust="spacingAndGlyphs">5</text>
<text x="161.31" y="612.65" font-size="9.0" fill="#4b1d62" textLength="4.90" lengthAdjust="spacingAndGlyphs">4</text>
<text x="161.31" y="622.60" font-size="9.0" fill="#67a63c" textLength="4.90" lengthAdjust="spacingAndGlyphs">5</text>
<text x="194.03" y="612.65" font-size="9.0" fill="#4b1d62" textLength="4.90" lengthAdjust="spacingAndGlyphs">3</text>
<text x="194.03" y="622.60" font-size="9.0" fill="#67a63c" textLength="4.90" lengthAdjust="spacingAndGlyphs">3</text>
<text x="226.75" y="612.65" font-size="9.0" fill="#4b1d62" textLength="4.90" lengthAdjust="spacingAndGlyphs">1</text>
<text x="226.75" y="622.60" font-size="9.0" fill="#67a63c" textLength="4.90" lengthAdjust="spacingAndGlyphs">1</text>
<text x="75.80" y="676.40" font-size="8.5" fill="#231f20" textLength="17.90" lengthAdjust="spacingAndGlyphs" stroke="#231f20" stroke-width="0.25">Arm:</text>
<line x1="103.80" y1="673.40" x2="131.50" y2="673.40" stroke="#4b1d62" stroke-width="1.5"/>
<text x="134.60" y="676.40" font-size="8.5" fill="#231f20" textLength="28.90" lengthAdjust="spacingAndGlyphs" stroke="#231f20" stroke-width="0.25">EPOCH</text>
<line x1="173.50" y1="673.40" x2="201.90" y2="673.40" stroke="#67a63c" stroke-width="1.5"/>
<text x="204.80" y="676.40" font-size="8.5" fill="#231f20" textLength="27.90" lengthAdjust="spacingAndGlyphs" stroke="#231f20" stroke-width="0.25">Vor+EP</text>
<path d="M65.8,501.5 H73.5 V519.8 H115.2 V538.6 H154.4 V556.9 H238.8" fill="none" stroke="#4b1d62" stroke-width="1.5" stroke-linejoin="miter" stroke-linecap="square"/>
<path d="M65.8,501.5 H73.1 V517.9 H78.7 V533.8 H110.4 V550 H225 V590.2 H243.8" fill="none" stroke="#67a63c" stroke-width="1.5" stroke-linejoin="miter" stroke-linecap="square"/>
<line x1="189.40" y1="555.00" x2="189.40" y2="558.80" stroke="#4b1d62" stroke-width="1.3"/>
<line x1="205.40" y1="555.00" x2="205.40" y2="558.80" stroke="#4b1d62" stroke-width="1.3"/>
<line x1="238.50" y1="555.00" x2="238.50" y2="558.80" stroke="#4b1d62" stroke-width="1.3"/>
<line x1="174.60" y1="548.10" x2="174.60" y2="551.90" stroke="#67a63c" stroke-width="1.3"/>
<line x1="184.20" y1="548.10" x2="184.20" y2="551.90" stroke="#67a63c" stroke-width="1.3"/>
<line x1="224.60" y1="548.10" x2="224.60" y2="551.90" stroke="#67a63c" stroke-width="1.3"/>
<line x1="243.30" y1="588.30" x2="243.30" y2="592.10" stroke="#67a63c" stroke-width="1.3"/>
<text x="265.00" y="476.90" font-size="13.0" fill="#000" font-weight="bold">F</text>
<text x="355.20" y="491.30" font-size="9.2" fill="#231f20" textLength="112.00" lengthAdjust="spacingAndGlyphs" stroke="#231f20" stroke-width="0.25">Primary Effusion Lymphoma</text>
<path d="M318.00,496.80 V626.40 H504.80" fill="none" stroke="#000" stroke-width="1.4" stroke-linecap="round" stroke-linejoin="round"/>
<line x1="314.40" y1="501.20" x2="318.00" y2="501.20" stroke="#000" stroke-width="1.2"/>
<text x="293.40" y="504.05" font-size="8.8" fill="#231f20" textLength="17.90" lengthAdjust="spacingAndGlyphs" stroke="#231f20" stroke-width="0.25">1.00</text>
<line x1="314.40" y1="533.45" x2="318.00" y2="533.45" stroke="#000" stroke-width="1.2"/>
<text x="293.40" y="536.30" font-size="8.8" fill="#231f20" textLength="17.90" lengthAdjust="spacingAndGlyphs" stroke="#231f20" stroke-width="0.25">0.75</text>
<line x1="314.40" y1="565.70" x2="318.00" y2="565.70" stroke="#000" stroke-width="1.2"/>
<text x="293.40" y="568.55" font-size="8.8" fill="#231f20" textLength="17.90" lengthAdjust="spacingAndGlyphs" stroke="#231f20" stroke-width="0.25">0.50</text>
<line x1="314.40" y1="597.95" x2="318.00" y2="597.95" stroke="#000" stroke-width="1.2"/>
<text x="293.40" y="600.80" font-size="8.8" fill="#231f20" textLength="17.90" lengthAdjust="spacingAndGlyphs" stroke="#231f20" stroke-width="0.25">0.25</text>
<line x1="322.70" y1="626.40" x2="322.70" y2="629.70" stroke="#000" stroke-width="1.2"/>
<text x="320.10" y="641.30" font-size="9.1" fill="#231f20" textLength="5.20" lengthAdjust="spacingAndGlyphs" stroke="#231f20" stroke-width="0.25">0</text>
<line x1="358.12" y1="626.40" x2="358.12" y2="629.70" stroke="#000" stroke-width="1.2"/>
<text x="353.27" y="641.30" font-size="9.1" fill="#231f20" textLength="9.70" lengthAdjust="spacingAndGlyphs" stroke="#231f20" stroke-width="0.25">12</text>
<line x1="393.54" y1="626.40" x2="393.54" y2="629.70" stroke="#000" stroke-width="1.2"/>
<text x="388.69" y="641.30" font-size="9.1" fill="#231f20" textLength="9.70" lengthAdjust="spacingAndGlyphs" stroke="#231f20" stroke-width="0.25">24</text>
<line x1="428.96" y1="626.40" x2="428.96" y2="629.70" stroke="#000" stroke-width="1.2"/>
<text x="424.11" y="641.30" font-size="9.1" fill="#231f20" textLength="9.70" lengthAdjust="spacingAndGlyphs" stroke="#231f20" stroke-width="0.25">36</text>
<line x1="464.38" y1="626.40" x2="464.38" y2="629.70" stroke="#000" stroke-width="1.2"/>
<text x="459.53" y="641.30" font-size="9.1" fill="#231f20" textLength="9.70" lengthAdjust="spacingAndGlyphs" stroke="#231f20" stroke-width="0.25">48</text>
<line x1="499.80" y1="626.40" x2="499.80" y2="629.70" stroke="#000" stroke-width="1.2"/>
<text x="494.95" y="641.30" font-size="9.1" fill="#231f20" textLength="9.70" lengthAdjust="spacingAndGlyphs" stroke="#231f20" stroke-width="0.25">60</text>
<text x="358.80" y="655.60" font-size="10.4" fill="#231f20" textLength="104.70" lengthAdjust="spacingAndGlyphs" stroke="#231f20" stroke-width="0.25">Months after randomization</text>
<text x="0" y="0" font-size="10.4" fill="#231f20" stroke="#231f20" stroke-width="0.25" textLength="68.8" lengthAdjust="spacingAndGlyphs" transform="translate(287.30,595.90) rotate(-90)">Event-free survival</text>
<line x1="335.00" y1="579.80" x2="339.00" y2="579.80" stroke="#444" stroke-width="1.0"/>
<line x1="337.00" y1="577.80" x2="337.00" y2="581.80" stroke="#444" stroke-width="1.0"/>
<text x="342.20" y="583.40" font-size="9.4" fill="#231f20" textLength="38.80" lengthAdjust="spacingAndGlyphs" stroke="#231f20" stroke-width="0.25">Censored;</text>
<text x="323.70" y="593.00" font-size="9.4" fill="#231f20" textLength="68.20" lengthAdjust="spacingAndGlyphs" stroke="#231f20" stroke-width="0.25">Logrank p=0.3431</text>
<text x="282.30" y="612.65" font-size="8.6" fill="#4b1d62" textLength="27.80" lengthAdjust="spacingAndGlyphs">EPOCH</text>
<text x="282.10" y="622.60" font-size="8.6" fill="#67a63c" textLength="28.00" lengthAdjust="spacingAndGlyphs">Vor+EP</text>
<text x="320.25" y="612.65" font-size="9.0" fill="#4b1d62" textLength="4.90" lengthAdjust="spacingAndGlyphs">2</text>
<text x="320.25" y="622.60" font-size="9.0" fill="#67a63c" textLength="4.90" lengthAdjust="spacingAndGlyphs">5</text>
<text x="355.67" y="612.65" font-size="9.0" fill="#4b1d62" textLength="4.90" lengthAdjust="spacingAndGlyphs">2</text>
<text x="355.67" y="622.60" font-size="9.0" fill="#67a63c" textLength="4.90" lengthAdjust="spacingAndGlyphs">3</text>
<text x="391.09" y="612.65" font-size="9.0" fill="#4b1d62" textLength="4.90" lengthAdjust="spacingAndGlyphs">2</text>
<text x="391.09" y="622.60" font-size="9.0" fill="#67a63c" textLength="4.90" lengthAdjust="spacingAndGlyphs">3</text>
<text x="426.51" y="612.65" font-size="9.0" fill="#4b1d62" textLength="4.90" lengthAdjust="spacingAndGlyphs">2</text>
<text x="426.51" y="622.60" font-size="9.0" fill="#67a63c" textLength="4.90" lengthAdjust="spacingAndGlyphs">1</text>
<text x="461.93" y="612.65" font-size="9.0" fill="#4b1d62" textLength="4.90" lengthAdjust="spacingAndGlyphs">1</text>
<text x="461.93" y="622.60" font-size="9.0" fill="#67a63c" textLength="4.90" lengthAdjust="spacingAndGlyphs">0</text>
<text x="497.35" y="612.65" font-size="9.0" fill="#4b1d62" textLength="4.90" lengthAdjust="spacingAndGlyphs">0</text>
<text x="332.70" y="676.40" font-size="8.5" fill="#231f20" textLength="17.90" lengthAdjust="spacingAndGlyphs" stroke="#231f20" stroke-width="0.25">Arm:</text>
<line x1="360.60" y1="673.40" x2="388.70" y2="673.40" stroke="#4b1d62" stroke-width="1.5"/>
<text x="391.90" y="676.40" font-size="8.5" fill="#231f20" textLength="28.70" lengthAdjust="spacingAndGlyphs" stroke="#231f20" stroke-width="0.25">EPOCH</text>
<line x1="430.20" y1="673.40" x2="458.50" y2="673.40" stroke="#67a63c" stroke-width="1.5"/>
<text x="461.50" y="676.40" font-size="8.5" fill="#231f20" textLength="28.30" lengthAdjust="spacingAndGlyphs" stroke="#231f20" stroke-width="0.25">Vor+EP</text>
<path d="M322.7,501.5 H468.1" fill="none" stroke="#4b1d62" stroke-width="1.5" stroke-linejoin="miter" stroke-linecap="square"/>
<path d="M322.7,501.5 H330.4 V527.5 H336.2 V553.1 H443.5" fill="none" stroke="#67a63c" stroke-width="1.5" stroke-linejoin="miter" stroke-linecap="square"/>
<line x1="456.50" y1="499.60" x2="456.50" y2="503.40" stroke="#4b1d62" stroke-width="1.3"/>
<line x1="467.50" y1="499.60" x2="467.50" y2="503.40" stroke="#4b1d62" stroke-width="1.3"/>
<line x1="406.90" y1="551.20" x2="406.90" y2="555.00" stroke="#67a63c" stroke-width="1.3"/>
<line x1="420.00" y1="551.20" x2="420.00" y2="555.00" stroke="#67a63c" stroke-width="1.3"/>
<line x1="442.90" y1="551.20" x2="442.90" y2="555.00" stroke="#67a63c" stroke-width="1.3"/>
</g>
<rect x="0" y="0" width="520" height="1.1" fill="#000"/>
<rect x="0" y="0" width="1.1" height="686" fill="#000"/>
<rect x="518.5" y="0" width="1.5" height="686" fill="#000"/>
<rect x="0" y="684.6" width="520" height="1.4" fill="#000"/>
</svg>
</body></html>
